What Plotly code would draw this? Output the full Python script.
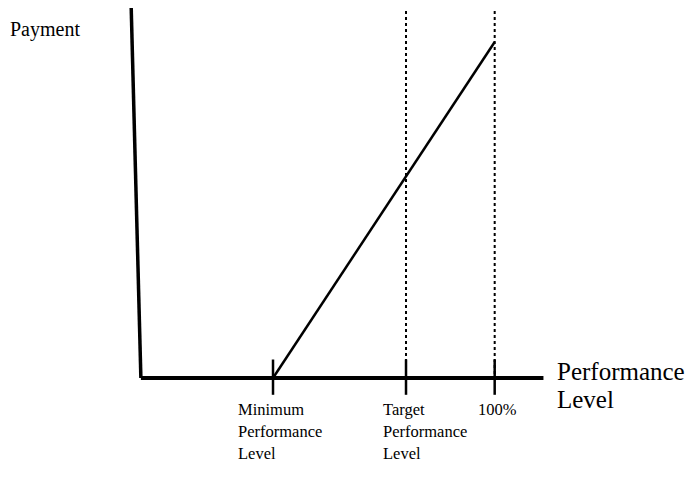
import plotly.graph_objects as go

# niveaux de performance sur l'axe x (origine = 0)
niveaux = ["Minimum<br>Performance<br>Level", "Target<br>Performance<br>Level", "100%"]
perf_x = [1.5, 3.0, 4.0]
# paiement au minimum et a 100% (droite entre les deux)
paiement = [0.0, 1.0]
axe_fin = 4.55
haut = 1.11

# conversion pixels -> donnees (origine de l'axe a 140,378 ; la page a une marge de 8px)
def px_x(p):
    return (p - 140) / 88.67

def px_y(p):
    return (378 - p) / 336

fig = go.Figure()
noir = "black"

# axe vertical (legerement penche comme sur l'original)
fig.add_trace(go.Scatter(x=[-0.1, 0.01], y=[haut, 0], mode="lines",
                         line=dict(color=noir, width=3.5), hoverinfo="skip"))
# axe horizontal
fig.add_trace(go.Scatter(x=[0.01, axe_fin], y=[0, 0], mode="lines",
                         line=dict(color=noir, width=4), hoverinfo="skip"))

# lignes pointillees pour target et 100%
for xv in perf_x[1:]:
    fig.add_trace(go.Scatter(x=[xv, xv], y=[haut, 0], mode="lines",
                             line=dict(color=noir, width=2, dash="dot"), hoverinfo="skip"))

# petites graduations
for xv in perf_x:
    fig.add_trace(go.Scatter(x=[xv, xv], y=[0.055, -0.05], mode="lines",
                             line=dict(color=noir, width=2.5), hoverinfo="skip"))

# courbe de paiement
fig.add_trace(go.Scatter(x=[perf_x[0], perf_x[2]], y=paiement, mode="lines",
                         line=dict(color=noir, width=2.5), hoverinfo="skip"))

police = "Liberation Serif, Times New Roman, serif"

def texte(px, py, t, size, dx=0):
    fig.add_annotation(x=px_x(px), y=px_y(py), xref="x", yref="y", text=t,
                       showarrow=False, xanchor="left", yanchor="middle", align="left",
                       xshift=dx, font=dict(family=police, size=size, color=noir))

texte(12, 29, "Payment", 20, dx=-4)
texte(555, 371, "Performance", 25)
texte(555, 399, "Level", 25)

# libelles sous les graduations, une ligne a la fois
colonnes = [236, 381, 476]
for gauche, lib in zip(colonnes, niveaux):
    for i, ligne in enumerate(lib.split("<br>")):
        texte(gauche, 409 + 22 * i, ligne, 16.5)

fig.update_layout(
    width=694, height=480,
    margin=dict(l=0, r=0, t=0, b=0),
    paper_bgcolor="white", plot_bgcolor="white",
    showlegend=False,
    xaxis=dict(range=[px_x(8), px_x(702)], visible=False),
    yaxis=dict(range=[px_y(488), px_y(8)], visible=False),
)

fig.write_html("out.html")
